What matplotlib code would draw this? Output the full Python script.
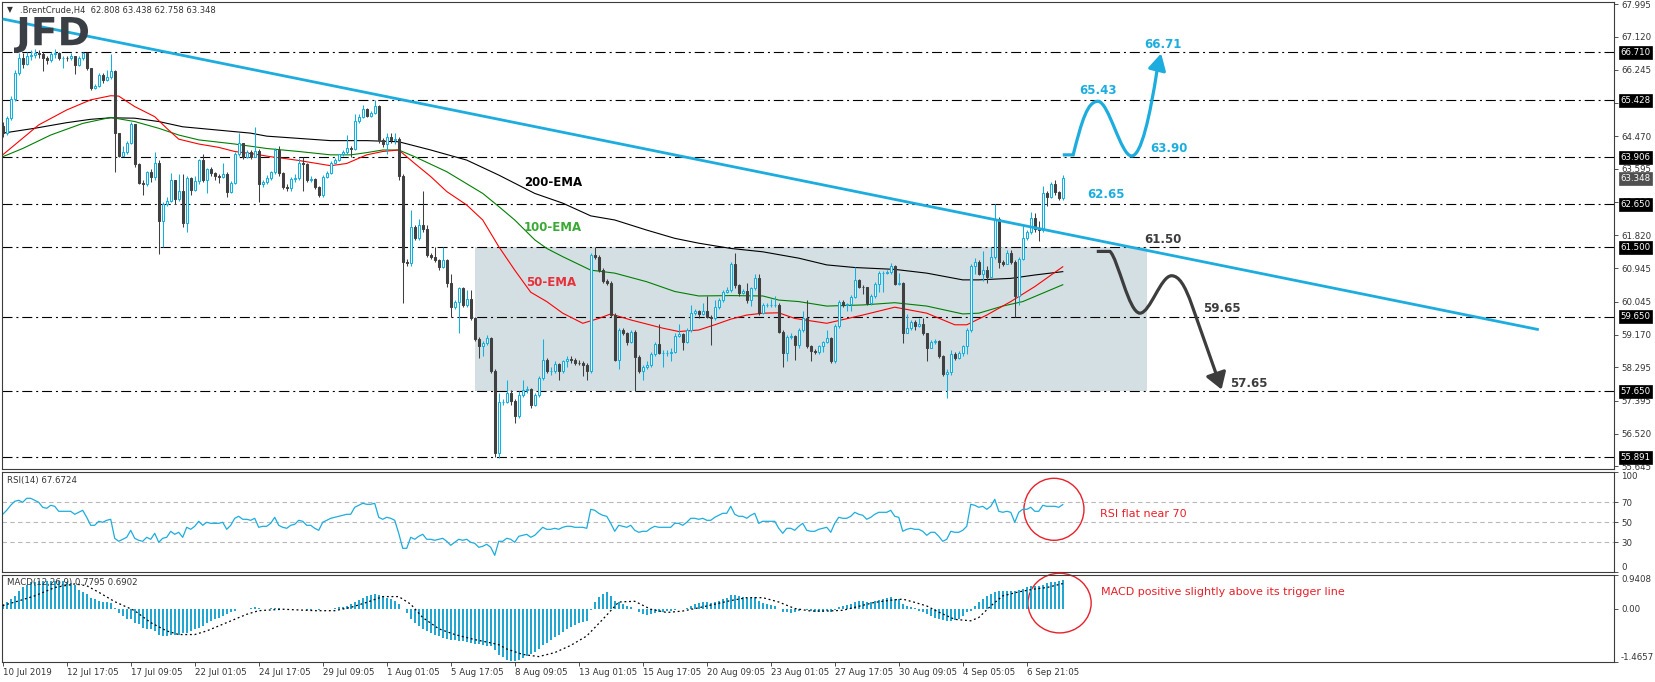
import numpy as np
import matplotlib
matplotlib.use("Agg")
import matplotlib.pyplot as plt
from matplotlib.patches import Rectangle, Ellipse, PathPatch
from matplotlib.path import Path
from matplotlib.textpath import TextPath
from matplotlib.font_manager import FontProperties
from matplotlib.transforms import Affine2D, IdentityTransform, blended_transform_factory

plt.rcParams['font.family'] = ['DejaVu Sans']

# ---------------- data (H4 candles) ----------------
first_open = 64.75
closes = [
    64.55, 64.95, 65.47, 66.15, 66.57, 66.40, 66.60, 66.65, 66.70, 66.66,
    66.55, 66.50, 66.66, 66.68, 66.55, 66.56, 66.55, 66.62, 66.38, 66.55,
    66.68, 66.28, 65.75, 65.80, 66.10, 65.98, 66.05, 66.20, 64.55, 63.95,
    64.05, 64.30, 64.80, 63.73, 63.23, 63.20, 63.50, 63.38, 63.75, 62.20,
    62.65, 62.75, 63.30, 62.80, 63.00, 62.15, 63.35, 63.02, 63.28, 63.82,
    63.30, 63.58, 63.48, 63.40, 63.38, 63.47, 62.98, 63.22, 64.00, 64.28,
    63.92, 64.05, 63.92, 64.06, 63.20, 63.25, 63.35, 63.50, 64.10, 63.48,
    63.12, 63.08, 63.32, 63.35, 63.75, 63.72, 63.30, 63.32, 63.10, 62.90,
    63.38, 63.48, 63.75, 63.82, 63.98, 64.05, 64.15, 64.12, 64.88, 64.98,
    65.20, 65.02, 65.10, 65.28, 64.37, 64.25, 64.45, 64.38, 64.40, 63.40,
    61.12, 61.08, 62.05, 61.75, 62.10, 61.98, 61.30, 61.25, 61.15, 60.98,
    61.15, 60.55, 59.90, 60.05, 60.40, 59.95, 60.12, 59.62, 59.06, 58.85,
    58.95, 59.08, 58.20, 56.00, 57.38, 57.38, 57.60, 57.40, 56.98, 57.55,
    57.68, 57.72, 57.30, 57.55, 58.00, 58.50, 58.20, 58.20, 58.38, 58.20,
    58.45, 58.52, 58.50, 58.42, 58.40, 58.35, 58.20, 61.30, 61.25, 60.90,
    60.60, 60.55, 59.70, 58.50, 59.30, 59.20, 58.98, 59.25, 58.58, 58.20,
    58.30, 58.35, 58.65, 58.93, 58.68, 58.68, 58.68, 58.70, 59.13, 59.18,
    58.98, 59.30, 59.75, 59.80, 59.72, 59.80, 59.65, 59.60, 59.90, 60.08,
    60.30, 60.35, 61.05, 60.48, 60.28, 60.32, 60.10, 60.40, 60.68, 59.75,
    59.95, 59.95, 59.95, 59.95, 59.25, 58.68, 59.10, 59.12, 58.88, 59.30,
    59.60, 58.85, 58.72, 58.70, 58.85, 58.97, 59.08, 58.45, 59.40, 60.05,
    59.95, 59.98, 60.18, 60.62, 60.45, 60.43, 60.00, 60.20, 60.52, 60.82,
    60.82, 60.85, 61.00, 60.52, 60.55, 59.22, 59.35, 59.50, 59.40, 59.45,
    59.20, 58.82, 58.98, 59.00, 58.60, 58.12, 58.18, 58.65, 58.55, 58.67,
    58.85, 59.30, 61.00, 61.10, 60.80, 60.90, 60.72, 61.25, 62.25, 61.10,
    61.05, 61.35, 61.10, 60.20, 61.20, 61.75, 61.90, 62.28, 61.98, 61.95,
    62.95, 62.85, 63.20, 62.98, 62.81, 63.35]
highs = [
    64.85, 65.00, 65.55, 66.25, 66.70, 66.70, 66.72, 66.78, 66.80, 66.76,
    66.72, 66.62, 66.72, 66.80, 66.72, 66.62, 66.62, 66.70, 66.62, 66.60,
    66.71, 66.72, 66.30, 65.85, 66.15, 66.15, 66.25, 66.67, 66.25, 64.55,
    64.20, 64.35, 64.85, 64.80, 63.75, 63.30, 63.55, 63.60, 64.05, 63.82,
    62.70, 62.85, 63.48, 63.30, 63.45, 63.45, 63.40, 63.38, 63.40, 63.85,
    63.98, 63.62, 63.65, 63.50, 63.45, 63.75, 63.50, 63.28, 64.05, 64.55,
    64.30, 64.10, 64.10, 64.72, 64.12, 63.30, 63.42, 63.55, 64.15, 64.20,
    63.50, 63.20, 63.38, 63.45, 63.88, 63.90, 63.75, 63.40, 63.35, 63.15,
    63.42, 63.55, 63.80, 63.88, 64.00, 64.10, 64.50, 64.20, 65.05, 65.05,
    65.30, 65.22, 65.15, 65.44, 65.30, 64.42, 64.55, 64.55, 64.55, 64.45,
    63.45, 61.20, 62.50, 62.10, 62.25, 63.00, 62.10, 61.35, 61.50, 61.20,
    61.50, 61.18, 60.80, 60.10, 60.45, 60.45, 60.35, 60.35, 59.65, 59.10,
    59.00, 59.15, 59.10, 58.25, 57.60, 57.45, 57.95, 57.68, 57.45, 57.65,
    57.95, 57.80, 57.75, 57.60, 58.05, 59.05, 58.55, 58.30, 58.45, 58.42,
    58.50, 58.60, 58.60, 58.55, 58.50, 58.45, 58.40, 61.35, 61.50, 61.30,
    60.95, 60.65, 60.60, 59.75, 59.35, 59.35, 59.25, 59.30, 59.28, 58.62,
    58.35, 58.45, 58.70, 58.98, 59.45, 58.75, 58.75, 58.80, 59.20, 59.45,
    59.22, 59.35, 59.95, 59.85, 59.82, 60.00, 60.20, 59.70, 60.10, 60.15,
    60.35, 60.45, 61.10, 61.35, 60.52, 60.38, 60.55, 60.45, 60.80, 60.78,
    60.00, 60.00, 60.12, 60.20, 60.00, 59.30, 59.15, 59.20, 59.15, 59.35,
    59.80, 60.10, 58.90, 58.78, 58.90, 59.00, 59.30, 59.10, 59.45, 60.10,
    60.10, 60.02, 60.22, 60.98, 60.65, 60.50, 60.45, 60.25, 60.58, 60.88,
    60.88, 60.90, 61.08, 61.02, 60.82, 60.58, 59.72, 59.55, 59.55, 59.62,
    59.60, 59.22, 59.02, 59.05, 59.02, 58.62, 58.25, 58.75, 58.70, 58.72,
    58.90, 59.35, 61.05, 61.22, 61.15, 61.40, 61.00, 61.50, 62.65, 62.30,
    61.15, 61.42, 61.42, 61.15, 61.25, 62.10, 61.95, 62.45, 62.42, 62.20,
    63.15, 63.00, 63.25, 63.30, 63.00, 63.44]
lows = [
    64.45, 64.50, 64.90, 65.42, 66.10, 66.30, 66.38, 66.50, 66.55, 66.55,
    66.22, 66.40, 66.45, 66.55, 66.50, 66.30, 66.48, 66.50, 66.13, 66.35,
    66.50, 66.25, 65.70, 65.72, 65.78, 65.90, 65.95, 66.00, 63.50, 63.90,
    63.95, 64.00, 64.25, 63.65, 63.20, 62.90, 63.15, 63.25, 63.30, 61.32,
    61.50, 62.60, 62.70, 62.65, 62.75, 62.05, 61.90, 62.90, 63.00, 63.20,
    63.25, 62.95, 63.40, 63.30, 63.22, 63.35, 62.85, 62.95, 63.20, 63.95,
    63.85, 63.88, 63.85, 63.90, 62.70, 63.10, 63.20, 63.30, 63.45, 63.40,
    63.05, 63.00, 63.00, 63.25, 63.30, 63.00, 63.25, 63.25, 63.05, 62.85,
    62.85, 63.35, 63.45, 63.72, 63.80, 63.93, 64.00, 63.90, 64.10, 64.82,
    64.95, 64.98, 64.98, 65.05, 64.30, 64.18, 63.98, 64.30, 64.25, 63.30,
    60.02, 61.00, 61.00, 61.70, 61.70, 61.90, 61.25, 61.20, 61.10, 60.90,
    60.95, 60.45, 59.65, 59.85, 59.20, 59.90, 59.90, 59.55, 59.00, 58.55,
    58.60, 58.90, 58.15, 55.90, 55.88, 57.30, 57.35, 57.30, 56.80, 56.95,
    57.50, 57.60, 57.20, 57.25, 57.50, 57.95, 58.15, 58.10, 58.15, 57.95,
    58.15, 58.30, 58.42, 58.35, 58.35, 58.05, 57.95, 58.15, 61.20, 60.85,
    60.55, 60.50, 59.65, 58.45, 58.25, 59.15, 58.90, 58.95, 57.65, 58.15,
    57.95, 58.25, 58.30, 58.60, 58.65, 58.30, 58.60, 58.45, 58.68, 59.10,
    58.75, 58.95, 59.25, 59.70, 59.60, 59.68, 59.60, 58.90, 59.55, 59.85,
    60.05, 60.28, 60.30, 60.40, 60.20, 60.25, 60.00, 59.92, 60.35, 59.70,
    59.72, 59.90, 59.90, 59.90, 59.20, 58.30, 58.45, 59.05, 58.50, 58.80,
    59.25, 58.80, 58.45, 58.65, 58.65, 58.70, 58.95, 58.40, 58.40, 59.35,
    59.90, 59.80, 59.80, 60.15, 60.40, 60.25, 59.95, 59.95, 60.15, 60.30,
    60.30, 60.78, 60.80, 60.48, 60.50, 58.95, 59.20, 59.30, 59.30, 59.38,
    59.15, 58.45, 58.80, 58.92, 58.55, 58.05, 57.48, 58.10, 58.50, 58.52,
    58.60, 58.65, 59.25, 60.80, 60.75, 60.60, 60.55, 60.70, 61.20, 60.95,
    61.00, 61.05, 61.05, 59.65, 59.95, 61.15, 61.70, 61.85, 61.90, 61.68,
    61.90, 62.60, 62.82, 62.90, 62.76, 62.76]

# moving averages (sampled along the drawn curves)
ema50_x = [0, 9, 16, 22, 27, 29, 33, 38, 41, 44, 49, 54, 58, 63, 67, 70, 74, 82, 86, 91,
           95, 99, 103, 107, 111, 116, 120, 124, 128, 132, 136, 140, 145, 149, 152, 157,
           165, 169, 174, 178, 182, 186, 190, 194, 198, 206, 215, 223, 231, 238, 241,
           246, 252, 258, 265]
ema50_y = [63.97, 64.77, 65.17, 65.44, 65.55, 65.54, 65.26, 64.99, 64.68, 64.39, 64.26,
           64.17, 64.06, 63.99, 63.92, 63.88, 63.82, 63.68, 63.74, 63.97, 64.06, 64.10,
           63.74, 63.39, 62.99, 62.63, 62.23, 61.52, 60.89, 60.30, 60.05, 59.74, 59.47,
           59.60, 59.72, 59.56, 59.34, 59.25, 59.29, 59.43, 59.58, 59.69, 59.74, 59.75,
           59.60, 59.47, 59.69, 59.90, 59.74, 59.43, 59.43, 59.69, 60.05, 60.45, 60.98]
ema100_x = [0, 5, 12, 20, 27, 33, 39, 44, 49, 58, 66, 74, 82, 87, 91, 95, 99, 103, 111,
            120, 124, 128, 133, 136, 140, 147, 153, 161, 168, 174, 182, 190, 194, 199,
            206, 215, 223, 231, 240, 244, 250, 255, 261, 265]
ema100_y = [63.92, 64.14, 64.50, 64.81, 64.97, 64.86, 64.68, 64.50, 64.37, 64.26, 64.14,
            64.06, 63.97, 63.97, 64.03, 64.10, 64.10, 63.92, 63.52, 62.94, 62.59, 62.23,
            61.70, 61.47, 61.25, 60.89, 60.81, 60.58, 60.32, 60.20, 60.21, 60.20, 60.09,
            60.05, 59.93, 59.96, 60.02, 59.93, 59.72, 59.74, 59.93, 60.05, 60.32, 60.50]
ema200_x = [0, 8, 16, 22, 27, 33, 39, 45, 54, 62, 66, 74, 82, 91, 99, 107, 116, 124, 133,
            140, 147, 153, 161, 168, 174, 182, 190, 199, 206, 213, 223, 231, 240, 244,
            252, 258, 265]
ema200_y = [64.55, 64.68, 64.83, 64.92, 64.96, 64.95, 64.86, 64.72, 64.63, 64.55, 64.47,
            64.41, 64.35, 64.35, 64.32, 64.10, 63.83, 63.43, 62.94, 62.68, 62.34, 62.23,
            61.96, 61.74, 61.61, 61.47, 61.38, 61.21, 61.03, 60.96, 60.91, 60.81, 60.63,
            60.63, 60.67, 60.76, 60.85]

rsi = [
    58, 62, 67, 71, 72, 70, 74, 74, 72, 70,
    65, 64, 67, 66, 61, 61, 61, 61, 58, 60,
    62, 55, 47, 47, 51, 50, 52, 53, 34, 31,
    33, 35, 42, 34, 32, 31, 35, 33, 39, 30,
    34, 35, 41, 38, 40, 35, 45, 43, 46, 51,
    47, 50, 49, 49, 49, 50, 43, 47, 54, 56,
    53, 53, 52, 54, 45, 46, 46, 49, 55, 47,
    45, 44, 47, 48, 52, 51, 47, 47, 44, 42,
    50, 52, 54, 55, 56, 57, 58, 58, 65, 67,
    69, 68, 68, 69, 55, 53, 55, 54, 52, 39,
    24, 24, 35, 33, 36, 38, 33, 33, 32, 33,
    34, 31, 27, 30, 33, 32, 33, 30, 29, 25,
    26, 28, 25, 17, 31, 31, 34, 33, 30, 36,
    37, 38, 35, 37, 41, 45, 43, 43, 44, 43,
    45, 46, 46, 45, 45, 45, 44, 63, 62, 59,
    57, 56, 49, 41, 47, 46, 45, 47, 42, 40,
    41, 41, 44, 46, 45, 45, 45, 45, 49, 49,
    47, 50, 54, 54, 53, 54, 52, 52, 55, 57,
    59, 59, 66, 58, 56, 56, 54, 57, 59, 49,
    51, 51, 51, 51, 44, 39, 44, 44, 42, 46,
    49, 42, 41, 41, 43, 44, 45, 40, 49, 55,
    54, 54, 56, 60, 58, 57, 53, 55, 58, 60,
    60, 60, 62, 56, 55, 41, 43, 44, 43, 43,
    41, 37, 40, 40, 36, 31, 33, 41, 40, 40,
    42, 46, 68, 67, 65, 66, 63, 66, 73, 61,
    60, 61, 60, 50, 60, 63, 63, 65, 61, 61,
    67, 66, 66, 66, 65, 67.67]

macd = [
    0.12, 0.18, 0.26, 0.35, 0.49, 0.59, 0.66, 0.73, 0.73, 0.75,
    0.76, 0.77, 0.77, 0.76, 0.76, 0.75, 0.74, 0.71, 0.65, 0.52,
    0.46, 0.40, 0.30, 0.26, 0.21, 0.17, 0.17, 0.15, 0.02, -0.13,
    -0.20, -0.28, -0.30, -0.39, -0.44, -0.53, -0.56, -0.58, -0.62, -0.74,
    -0.75, -0.75, -0.74, -0.74, -0.72, -0.69, -0.67, -0.62, -0.56, -0.53,
    -0.47, -0.41, -0.35, -0.28, -0.25, -0.20, -0.16, -0.11, -0.06, -0.02,
    -0.02, -0.01, 0.02, 0.03, 0.02, 0.00, -0.02, 0.01, 0.02, 0.01,
    -0.01, -0.02, -0.02, -0.01, 0.00, -0.02, -0.03, -0.03, -0.02, -0.03,
    -0.02, -0.01, 0.00, 0.02, 0.03, 0.05, 0.07, 0.12, 0.18, 0.24,
    0.30, 0.35, 0.37, 0.40, 0.37, 0.34, 0.30, 0.26, 0.21, 0.12,
    -0.01, -0.13, -0.28, -0.41, -0.49, -0.56, -0.62, -0.67, -0.72, -0.77,
    -0.81, -0.84, -0.86, -0.88, -0.91, -0.91, -0.93, -0.95, -0.97, -0.99,
    -1.00, -1.03, -1.05, -1.14, -1.28, -1.35, -1.42, -1.46, -1.46, -1.42,
    -1.36, -1.30, -1.26, -1.20, -1.12, -1.02, -0.95, -0.88, -0.80, -0.73,
    -0.65, -0.58, -0.52, -0.46, -0.41, -0.37, -0.34, -0.05, 0.18, 0.32,
    0.40, 0.45, 0.35, 0.22, 0.18, 0.13, 0.08, 0.05, -0.02, -0.10,
    -0.14, -0.17, -0.16, -0.12, -0.10, -0.09, -0.08, -0.07, -0.03, 0.00,
    0.00, 0.02, 0.08, 0.12, 0.14, 0.17, 0.17, 0.16, 0.18, 0.21,
    0.25, 0.28, 0.38, 0.38, 0.35, 0.33, 0.30, 0.30, 0.31, 0.22,
    0.16, 0.12, 0.10, 0.07, 0.00, -0.09, -0.11, -0.12, -0.11, -0.06,
    0.00, -0.04, -0.08, -0.10, -0.10, -0.09, -0.07, -0.11, -0.05, 0.04,
    0.08, 0.10, 0.13, 0.19, 0.21, 0.22, 0.19, 0.18, 0.20, 0.24,
    0.26, 0.28, 0.31, 0.27, 0.25, 0.12, 0.06, 0.05, 0.01, -0.07,
    -0.11, -0.16, -0.21, -0.25, -0.28, -0.32, -0.34, -0.34, -0.32, -0.28,
    -0.21, -0.11, -0.07, 0.07, 0.17, 0.26, 0.34, 0.40, 0.47, 0.49,
    0.49, 0.49, 0.49, 0.49, 0.52, 0.54, 0.59, 0.61, 0.63, 0.63,
    0.65, 0.71, 0.73, 0.73, 0.75, 0.78]
sig_x = [0, 4, 8, 13, 18, 21, 24, 28, 33, 37, 41, 44, 48, 51, 56, 61, 64, 70, 78, 83,
         87, 91, 95, 99, 102, 105, 109, 113, 118, 122, 124, 126, 130, 134, 138, 142, 146,
         150, 154, 158, 162, 166, 170, 174, 178, 182, 186, 190, 194, 198, 202, 206, 210,
         214, 218, 222, 225, 228, 231, 234, 238, 242, 244, 247, 250, 254, 258, 261, 265]
sig_y = [0.08, 0.21, 0.35, 0.58, 0.68, 0.63, 0.45, 0.19, -0.06, -0.39, -0.62, -0.72,
         -0.72, -0.62, -0.39, -0.16, -0.06, -0.02, -0.06, -0.06, 0.03, 0.17, 0.33, 0.33,
         0.12, -0.25, -0.56, -0.72, -0.86, -0.95, -1.00, -1.12, -1.27, -1.33, -1.22,
         -1.02, -0.76, -0.30, 0.18, 0.20, -0.02, -0.11, -0.07, 0.02, 0.12, 0.22, 0.30,
         0.30, 0.18, 0.00, -0.07, -0.07, -0.05, 0.06, 0.17, 0.23, 0.26, 0.17, 0.07,
         -0.10, -0.30, -0.34, -0.25, 0.07, 0.35, 0.46, 0.54, 0.58, 0.69]

trend_x = [0, 384]
trend_y = [67.60, 59.30]
levels = [66.710, 65.428, 63.906, 62.650, 61.500, 59.650, 57.650, 55.891]
price_ticks = [67.995, 67.120, 66.245, 65.345, 64.470, 63.595, 62.720, 61.820,
               60.945, 60.045, 59.170, 58.295, 57.395, 56.520, 55.645]
last_price = 63.348
range_x = [118, 286]
range_y = [57.65, 61.50]
date_labels = ["10 Jul 2019", "12 Jul 17:05", "17 Jul 09:05", "22 Jul 01:05",
               "24 Jul 17:05", "29 Jul 09:05", "1 Aug 01:05", "5 Aug 17:05",
               "8 Aug 09:05", "13 Aug 01:05", "15 Aug 17:05", "20 Aug 09:05",
               "23 Aug 01:05", "27 Aug 17:05", "30 Aug 09:05", "4 Sep 05:05",
               "6 Sep 21:05"]

CYAN = '#12b0df'
DARK = '#404040'
BLUE = '#1cadde'
TXT = '#333333'

# ---------------- layout ----------------
W, H = 1655, 682
fig = plt.figure(figsize=(W / 100, H / 100), dpi=100)
fig.patch.set_facecolor('white')


def px_axes(x0, y0, x1, y1):
    return fig.add_axes([x0 / W, 1 - y1 / H, (x1 - x0) / W, (y1 - y0) / H])


ax = px_axes(2, 2, 1614, 469)
ax_rsi = px_axes(2, 471.5, 1614, 572.3)
ax_macd = px_axes(2, 574.5, 1614, 661.5)

for a in (ax, ax_rsi, ax_macd):
    a.set_xlim(-0.175, 402.8)
    for s in a.spines.values():
        s.set_color('#3c3c3c')
        s.set_linewidth(0.8)
    a.yaxis.tick_right()
    a.tick_params(axis='y', right=True, left=False, labelright=True, labelleft=False,
                  length=3, width=0.6, pad=2, labelsize=6.2, colors=TXT)
    a.tick_params(axis='x', bottom=False, labelbottom=False)

# ---------------- main price panel ----------------
ax.set_ylim(55.577, 68.054)
ax.add_patch(Rectangle((range_x[0], range_y[0]), range_x[1] - range_x[0],
                       range_y[1] - range_y[0], facecolor='#d3dfe3', edgecolor='none', zorder=0))
for lv in levels:
    ax.axhline(lv, color='black', lw=0.8, dashes=(9, 3.5, 1.8, 3.5), zorder=1)

ax.plot(trend_x, trend_y, color=BLUE, lw=2.0, solid_capstyle='butt', zorder=4)
ax.plot(ema200_x, ema200_y, color='black', lw=0.8, zorder=2)
ax.plot(ema100_x, ema100_y, color='#008000', lw=0.8, zorder=2)
ax.plot(ema50_x, ema50_y, color='#ff0000', lw=0.8, zorder=2)

c = np.array(closes)
o = np.array([first_open] + closes[:-1])
hi = np.array(highs)
lo = np.array(lows)
idx = np.arange(len(c))
up = c >= o
dn = ~up
ax.vlines(idx[up], lo[up], hi[up], color=CYAN, lw=0.75, zorder=3)
ax.vlines(idx[dn], lo[dn], hi[dn], color=DARK, lw=0.75, zorder=3)
ax.bar(idx[up], c[up] - o[up], bottom=o[up], width=0.6, facecolor='white',
       edgecolor=CYAN, linewidth=0.75, zorder=3.5)
ax.bar(idx[dn], o[dn] - c[dn], bottom=c[dn], width=0.6, facecolor=DARK,
       edgecolor=DARK, linewidth=0.75, zorder=3.5)

ax.set_yticks(price_ticks)
ax.set_yticklabels([f"{v:.3f}" for v in price_ticks])

tr = blended_transform_factory(ax.transAxes, ax.transData)
for lv in levels:
    ax.text(1.004, lv, f"{lv:.3f}", transform=tr, ha='left', va='center', fontsize=6.2,
            color='white', zorder=10, clip_on=False,
            bbox=dict(boxstyle='square,pad=0.22', fc='black', ec='black', lw=0.5))
ax.text(1.004, last_price, f"{last_price:.3f}", transform=tr, ha='left', va='center',
        fontsize=6.2, color='white', zorder=10, clip_on=False,
        bbox=dict(boxstyle='square,pad=0.22', fc='#505050', ec='#505050', lw=0.5))

# EMA labels
ax.text(130.3, 63.24, "200-EMA", color='black', fontsize=8.5, fontweight='bold', va='center', zorder=6)
ax.text(130.3, 62.02, "100-EMA", color='#3aaa35', fontsize=8.5, fontweight='bold', va='center', zorder=6)
ax.text(130.9, 60.55, "50-EMA", color='#e8303a', fontsize=8.5, fontweight='bold', va='center', zorder=6)

# bullish scenario path
up_verts = [(265, 63.97), (267.6, 63.97), (269.8, 64.9), (271.2, 65.40), (273.8, 65.40),
            (276.5, 65.40), (279.5, 63.94), (282.2, 63.94), (284.6, 63.94), (286.8, 65.0),
            (288.6, 66.25)]
up_codes = [Path.MOVETO, Path.LINETO] + [Path.CURVE4] * 9
ax.add_patch(PathPatch(Path(up_verts, up_codes), fill=False, ec=BLUE, lw=2.3, zorder=6,
                       capstyle='butt'))
ax.annotate('', xy=(289.6, 66.68), xytext=(288.6, 66.25),
            arrowprops=dict(arrowstyle='-|>,head_length=0.55,head_width=0.3',
                            mutation_scale=18, color=BLUE, lw=2.3, shrinkA=0, shrinkB=0),
            zorder=6)

# bearish scenario path
dn_verts = [(273.5, 61.39), (276.8, 61.39), (278.8, 61.2), (281.5, 59.74), (284.3, 59.74),
            (286.8, 59.74), (289.5, 60.74), (292.2, 60.74), (294.0, 60.74), (295.5, 60.5),
            (297.3, 59.95), (303.4, 58.1)]
dn_codes = [Path.MOVETO, Path.LINETO] + [Path.CURVE4] * 9 + [Path.LINETO]
ax.add_patch(PathPatch(Path(dn_verts, dn_codes), fill=False, ec='#3d3d3d', lw=2.3, zorder=6,
                       capstyle='butt'))
ax.annotate('', xy=(304.7, 57.70), xytext=(303.4, 58.1),
            arrowprops=dict(arrowstyle='-|>,head_length=0.55,head_width=0.35',
                            mutation_scale=18, color='#3d3d3d', lw=2.3, shrinkA=0, shrinkB=0),
            zorder=6)

bold = dict(fontsize=8.5, fontweight='bold', va='center', zorder=7)
ax.text(273.8, 65.68, "65.43", color=BLUE, ha='center', **bold)
ax.text(290.1, 66.92, "66.71", color=BLUE, ha='center', **bold)
ax.text(286.8, 64.13, "63.90", color=BLUE, ha='left', **bold)
ax.text(275.7, 62.90, "62.65", color=BLUE, ha='center', **bold)
ax.text(285.3, 61.70, "61.50", color='#3d3d3d', ha='left', **bold)
ax.text(300.1, 59.87, "59.65", color='#3d3d3d', ha='left', **bold)
ax.text(306.8, 57.87, "57.65", color='#3d3d3d', ha='left', **bold)

ax.text(5 / 1612, 1 - 8 / 467, "\u25bc", transform=ax.transAxes, fontsize=5.5,
        color=TXT, va='center', ha='left')
ax.text(18 / 1612, 1 - 8 / 467, ".BrentCrude,H4  62.808 63.438 62.758 63.348",
        transform=ax.transAxes, fontsize=6.0, color=TXT, va='center', ha='left')

# JFD logo
fp = FontProperties(family='DejaVu Sans', weight='bold')
tp = TextPath((0, 0), "JFD", size=1, prop=fp)
ext = tp.get_extents()
logo_tr = Affine2D().translate(-ext.x0, -ext.y0).scale(74 / ext.width, 36 / ext.height) \
    .translate(14, H - 53)
fig.add_artist(PathPatch(tp, transform=logo_tr + IdentityTransform(), fc='#3a3e45',
                         ec='none', zorder=20))

# ---------------- RSI panel ----------------
ax_rsi.set_ylim(0, 100.8)
for lv in (70, 50, 30):
    ax_rsi.axhline(lv, color='#b8b8b8', lw=0.8, dashes=(4, 3))
ax_rsi.plot(idx, rsi, color=BLUE, lw=0.9)
ax_rsi.set_yticks([0, 30, 50, 70, 100])
ax_rsi.set_yticklabels(["0", "30", "50", "70", "100"])
rl = ax_rsi.get_yticklabels()
rl[0].set_va('bottom')
rl[-1].set_va('top')
ax_rsi.text(5 / 1612, 1 - 9.5 / 100.8, "RSI(14) 67.6724", transform=ax_rsi.transAxes,
            fontsize=6.2, color=TXT, va='center')
ax_rsi.add_patch(Ellipse((262.8, 63), width=15, height=62, fill=False, ec='#e8202a',
                         lw=1.0, clip_on=False))
ax_rsi.text(274.2, 58.3, "RSI flat near 70", color='#e8202a', fontsize=8, va='center')

# ---------------- MACD panel ----------------
ax_macd.set_ylim(-1.4657, 0.9408)
ax_macd.bar(idx, macd, width=0.42, color='#22a6d2', zorder=2)
ax_macd.plot(sig_x, sig_y, color='black', lw=0.9, dashes=(1.5, 2.2), zorder=3)
ax_macd.set_yticks([-1.4657, 0, 0.9408])
ax_macd.set_yticklabels(["-1.4657", "0.00", "0.9408"])
ml = ax_macd.get_yticklabels()
ml[0].set_va('bottom')
ml[-1].set_va('top')
ax_macd.text(5 / 1612, 1 - 8.5 / 87, "MACD(12,26,9) 0.7795 0.6902", transform=ax_macd.transAxes,
             fontsize=6.2, color=TXT, va='center')
ax_macd.add_patch(Ellipse((264.2, 0.15), width=15.8, height=1.65, fill=False, ec='#e8202a',
                          lw=1.0, clip_on=False))
ax_macd.text(274.5, 0.45, "MACD positive slightly above its trigger line", color='#e8202a',
             fontsize=8, va='center')

ax_macd.set_xticks(list(range(0, 16 * len(date_labels), 16)))
ax_macd.set_xticklabels(date_labels)
ax_macd.tick_params(axis='x', bottom=True, labelbottom=True, length=3, width=0.6, pad=2,
                    labelsize=6.2, colors=TXT)
for lab in ax_macd.get_xticklabels():
    lab.set_ha('left')

fig.savefig('out.png', dpi=100)
